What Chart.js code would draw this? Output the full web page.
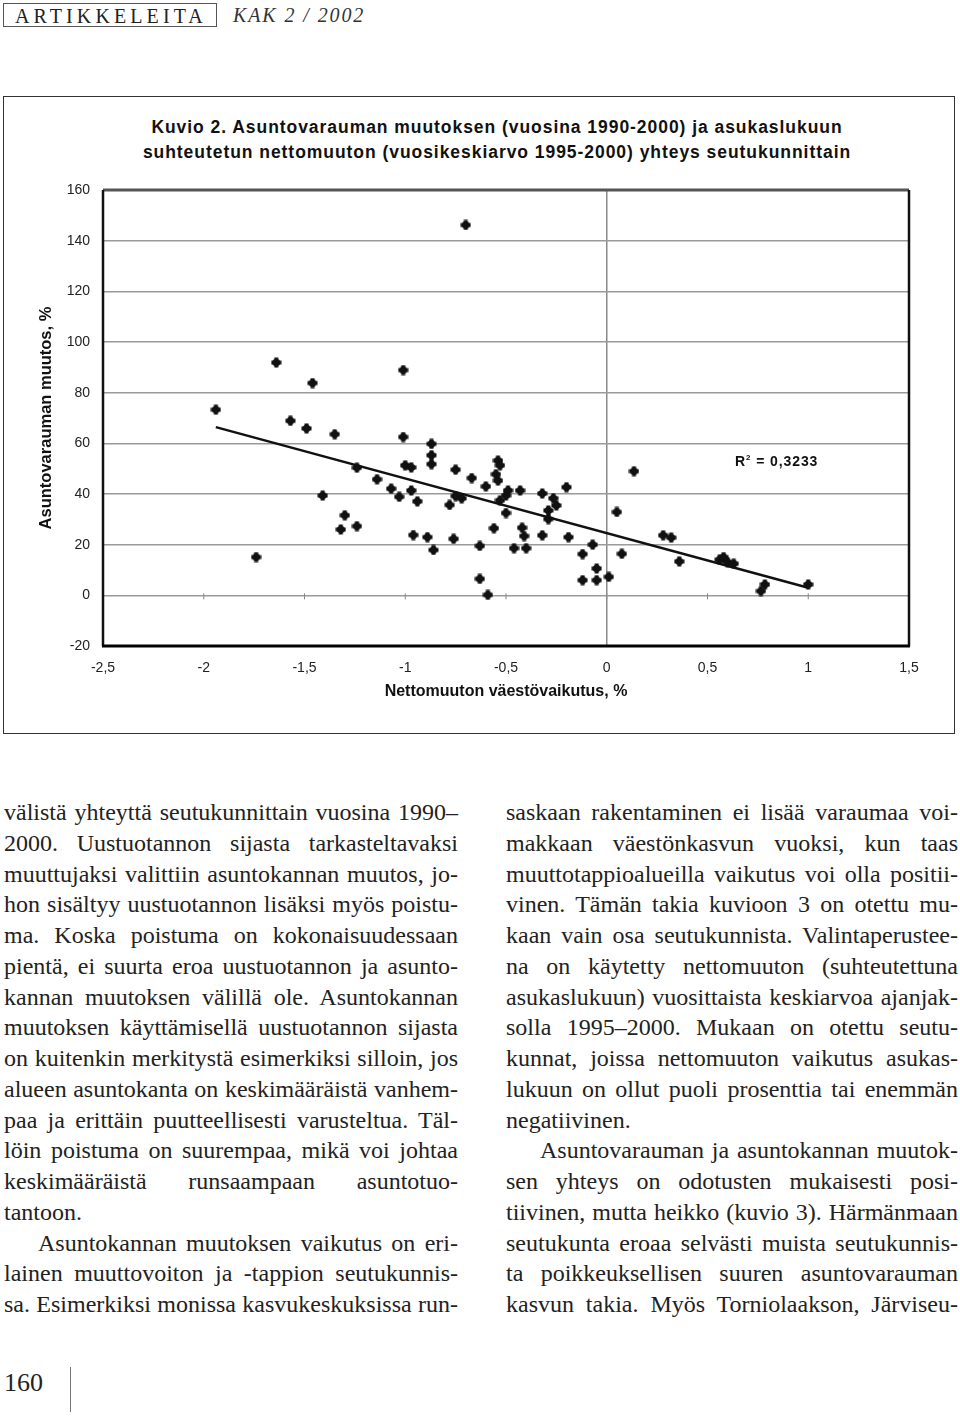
<!DOCTYPE html>
<html lang="fi">
<head>
<meta charset="UTF-8">
<title>Kuvio 2</title>
<script src="https://cdn.jsdelivr.net/npm/chart.js"></script>
<style>
    body { margin: 0; width: 960px; height: 1417px; position: relative; background: #fff; color: #222; font-family: "Liberation Serif", serif; overflow: hidden; }
    .hdrbox { position: absolute; left: 3px; top: 3px; width: 214px; height: 24px; border: 1px solid #555; font-size: 20px; line-height: 24px; letter-spacing: 4.1px; padding-left: 11px; box-sizing: border-box; color: #222; white-space: nowrap; }
    .hdrkak { position: absolute; left: 233px; top: 3px; font-size: 20px; line-height: 24px; font-style: italic; letter-spacing: 1.9px; color: #333; }
    .frame { position: absolute; left: 3px; top: 96px; width: 952px; height: 638px; border: 1.5px solid #333; box-sizing: border-box; }
    .ctitle { position: absolute; left: 60px; width: 874px; text-align: center; font-family: "Liberation Sans", Arial, sans-serif; font-weight: bold; font-size: 17.5px; letter-spacing: 0.95px; color: #111; white-space: nowrap; }
    .r2 { position: absolute; left: 735px; top: 453px; font-family: "Liberation Sans", Arial, sans-serif; font-weight: bold; font-size: 14px; letter-spacing: 0.9px; color: #111; }
    .r2 sup { font-size: 8px; }
    .wrap { position: absolute; left: 5px; top: 97px; width: 948px; height: 636px; }
    .col { position: absolute; top: 797px; font-size: 24px; line-height: 30.75px; }
    .col div { text-align: justify; text-align-last: justify; white-space: nowrap; }
    .col div.last { text-align-last: left; }
    .col div.ind { text-indent: 34px; }
    .pageno { position: absolute; left: 4px; top: 1368px; font-size: 26px; color: #222; }
    .vline { position: absolute; left: 70px; top: 1367px; width: 1px; height: 45px; background: #777; }
</style>
</head>
<body>
<div class="hdrbox">ARTIKKELEITA</div>
<div class="hdrkak">KAK 2 / 2002</div>

<div class="frame"></div>
<div class="ctitle" style="top:117px;">Kuvio 2. Asuntovarauman muutoksen (vuosina 1990-2000) ja asukaslukuun</div>
<div class="ctitle" style="top:142px;">suhteutetun nettomuuton (vuosikeskiarvo 1995-2000) yhteys seutukunnittain</div>
<div class="wrap"><canvas id="chart1"></canvas></div>
<div class="r2">R<sup>2</sup> = 0,3233</div>

<div class="col" style="left:4px; width:454px;">
    <div>välistä yhteyttä seutukunnittain vuosina 1990–</div>
    <div>2000. Uustuotannon sijasta tarkasteltavaksi</div>
    <div>muuttujaksi valittiin asuntokannan muutos, jo-</div>
    <div>hon sisältyy uustuotannon lisäksi myös poistu-</div>
    <div>ma. Koska poistuma on kokonaisuudessaan</div>
    <div>pientä, ei suurta eroa uustuotannon ja asunto-</div>
    <div>kannan muutoksen välillä ole. Asuntokannan</div>
    <div>muutoksen käyttämisellä uustuotannon sijasta</div>
    <div>on kuitenkin merkitystä esimerkiksi silloin, jos</div>
    <div>alueen asuntokanta on keskimääräistä vanhem-</div>
    <div>paa ja erittäin puutteellisesti varusteltua. Täl-</div>
    <div>löin poistuma on suurempaa, mikä voi johtaa</div>
    <div>keskimääräistä runsaampaan asuntotuo-</div>
    <div class="last">tantoon.</div>
    <div class="ind">Asuntokannan muutoksen vaikutus on eri-</div>
    <div>lainen muuttovoiton ja -tappion seutukunnis-</div>
    <div>sa. Esimerkiksi monissa kasvukeskuksissa run-</div>
</div>

<div class="col" style="left:506px; width:452px;">
    <div>saskaan rakentaminen ei lisää varaumaa voi-</div>
    <div>makkaan väestönkasvun vuoksi, kun taas</div>
    <div>muuttotappioalueilla vaikutus voi olla positii-</div>
    <div>vinen. Tämän takia kuvioon 3 on otettu mu-</div>
    <div>kaan vain osa seutukunnista. Valintaperustee-</div>
    <div>na on käytetty nettomuuton (suhteutettuna</div>
    <div>asukaslukuun) vuosittaista keskiarvoa ajanjak-</div>
    <div>solla 1995–2000. Mukaan on otettu seutu-</div>
    <div>kunnat, joissa nettomuuton vaikutus asukas-</div>
    <div>lukuun on ollut puoli prosenttia tai enemmän</div>
    <div class="last">negatiivinen.</div>
    <div class="ind">Asuntovarauman ja asuntokannan muutok-</div>
    <div>sen yhteys on odotusten mukaisesti posi-</div>
    <div>tiivinen, mutta heikko (kuvio 3). Härmänmaan</div>
    <div>seutukunta eroaa selvästi muista seutukunnis-</div>
    <div>ta poikkeuksellisen suuren asuntovarauman</div>
    <div>kasvun takia. Myös Torniolaakson, Järviseu-</div>
</div>

<div class="pageno">160</div>
<div class="vline"></div>

<script>
    // Nettomuuton väestövaikutus, % (x) ja asuntovarauman muutos, % (y)
    const xVals = [
        -1.94, -1.74, -1.64, -1.57, -1.49, -1.46, -1.41, -1.35, -1.32, -1.30,
        -1.24, -1.24, -1.14, -1.07, -1.03, -1.01, -1.01, -1.00, -0.97, -0.97,
        -0.96, -0.94, -0.89, -0.87, -0.87, -0.87, -0.86, -0.78, -0.76, -0.75,
        -0.75, -0.72, -0.70, -0.67, -0.63, -0.63, -0.60, -0.59, -0.56, -0.55,
        -0.54, -0.54, -0.53, -0.53, -0.50, -0.50, -0.49, -0.46, -0.43, -0.42,
        -0.41, -0.40, -0.32, -0.32, -0.29, -0.29, -0.265, -0.25, -0.20, -0.19,
        -0.12, -0.12, -0.07, -0.05, -0.05, 0.01, 0.05, 0.075, 0.135, 0.28,
        0.32, 0.36, 0.56, 0.58, 0.60, 0.63, 0.765, 0.785, 1.00
    ];
    const yVals = [
        73.3, 15.1, 91.9, 68.9, 65.9, 83.8, 39.4, 63.6, 26.0, 31.6,
        50.4, 27.3, 45.8, 42.1, 38.9, 88.9, 62.5, 51.3, 50.5, 41.4,
        23.8, 37.1, 23.0, 59.8, 55.3, 51.8, 17.9, 35.7, 22.3, 49.6,
        39.2, 38.3, 146.2, 46.3, 19.5, 6.5, 43.0, 0.2, 26.5, 47.8,
        53.2, 45.3, 51.3, 37.5, 39.4, 32.5, 41.4, 18.6, 41.4, 26.7,
        23.4, 18.6, 40.2, 23.7, 33.5, 30.1, 38.3, 35.5, 42.7, 23.0,
        16.3, 6.0, 20.0, 10.6, 6.0, 7.3, 32.9, 16.4, 49.0, 23.7,
        22.8, 13.4, 14.1, 15.1, 13.1, 12.5, 1.7, 4.3, 4.3
    ];
    // Trendiviivan päätepisteet kuvasta luettuna
    const trendX = [-1.94, 1.00];
    const trendY = [66.4, 3.0];

    const points = xVals.map((x, i) => ({x: x, y: yVals[i]}));
    const trend = trendX.map((x, i) => ({x: x, y: trendY[i]}));

    // Pistemerkki: täytetty risti
    const mark = document.createElement('canvas');
    mark.width = 11; mark.height = 11;
    const m = mark.getContext('2d');
    m.fillStyle = '#111';
    m.fillRect(3.5, 0.5, 4, 10);
    m.fillRect(0.5, 3.5, 10, 4);
    m.beginPath(); m.arc(5.5, 5.5, 3.8, 0, Math.PI * 2); m.fill();

    // Kehys ja pienet jakoviivat nollatasolle
    const framePlugin = {
        id: 'framePlugin',
        afterDraw(chart) {
            const {ctx, chartArea: a, scales} = chart;
            ctx.save();
            const y0 = scales.y.getPixelForValue(0);
            ctx.strokeStyle = '#888';
            ctx.lineWidth = 1;
            scales.x.ticks.forEach(t => {
                const px = scales.x.getPixelForValue(t.value);
                ctx.beginPath(); ctx.moveTo(px, y0 - 2); ctx.lineTo(px, y0 + 4); ctx.stroke();
            });
            ctx.lineWidth = 3;
            ctx.strokeStyle = '#555';
            ctx.beginPath(); ctx.moveTo(a.left, a.top); ctx.lineTo(a.right, a.top); ctx.stroke();
            ctx.strokeStyle = '#111';
            ctx.lineWidth = 2.5;
            ctx.beginPath(); ctx.moveTo(a.right, a.top); ctx.lineTo(a.right, a.bottom); ctx.stroke();
            ctx.beginPath(); ctx.moveTo(a.left, a.top); ctx.lineTo(a.left, a.bottom); ctx.stroke();
            ctx.lineWidth = 3;
            ctx.strokeStyle = '#000';
            ctx.beginPath(); ctx.moveTo(a.left - 1, a.bottom); ctx.lineTo(a.right + 1, a.bottom); ctx.stroke();
            ctx.restore();
        }
    };

    const ctx = document.getElementById('chart1').getContext('2d');
    new Chart(ctx, {
        type: 'scatter',
        data: {
            datasets: [
                {
                    label: 'Seutukunnat',
                    data: points,
                    pointStyle: mark,
                    pointRadius: 5,
                    pointHoverRadius: 5
                },
                {
                    label: 'Trendi',
                    data: trend,
                    showLine: true,
                    borderColor: '#111',
                    borderWidth: 2.5,
                    pointRadius: 0,
                    fill: false
                }
            ]
        },
        options: {
            responsive: true,
            maintainAspectRatio: false,
            animation: false,
            layout: {padding: {top: 93, right: 44, left: 0, bottom: 0}},
            plugins: {
                legend: {display: false},
                tooltip: {enabled: false}
            },
            scales: {
                x: {
                    type: 'linear',
                    min: -2.5,
                    max: 1.5,
                    afterFit: s => { s.height = 87; },
                    border: {display: false},
                    grid: {
                        drawTicks: false,
                        color: c => (c.tick && c.tick.value === 0) ? '#8a8a8a' : 'rgba(0,0,0,0)',
                        lineWidth: 1.5
                    },
                    ticks: {
                        stepSize: 0.5,
                        padding: 14,
                        color: '#222',
                        font: {family: '"Liberation Sans", Arial', size: 14},
                        callback: v => String(v).replace('.', ',')
                    },
                    title: {
                        display: true,
                        text: 'Nettomuuton väestövaikutus, %',
                        color: '#111',
                        font: {family: '"Liberation Sans", Arial', size: 16, weight: 'bold'},
                        padding: {top: 0, bottom: 32}
                    }
                },
                y: {
                    min: -20,
                    max: 160,
                    afterFit: s => { s.width = 98; },
                    border: {display: false},
                    grid: {
                        drawTicks: false,
                        color: '#9a9a9a',
                        lineWidth: 1.5
                    },
                    ticks: {
                        stepSize: 20,
                        padding: 13,
                        color: '#222',
                        font: {family: '"Liberation Sans", Arial', size: 14}
                    },
                    title: {
                        display: true,
                        text: 'Asuntovarauman muutos, %',
                        color: '#111',
                        font: {family: '"Liberation Sans", Arial', size: 16.5, weight: 'bold'},
                        padding: {top: 32, bottom: 0}
                    }
                }
            }
        },
        plugins: [framePlugin]
    });
</script>
</body>
</html>
